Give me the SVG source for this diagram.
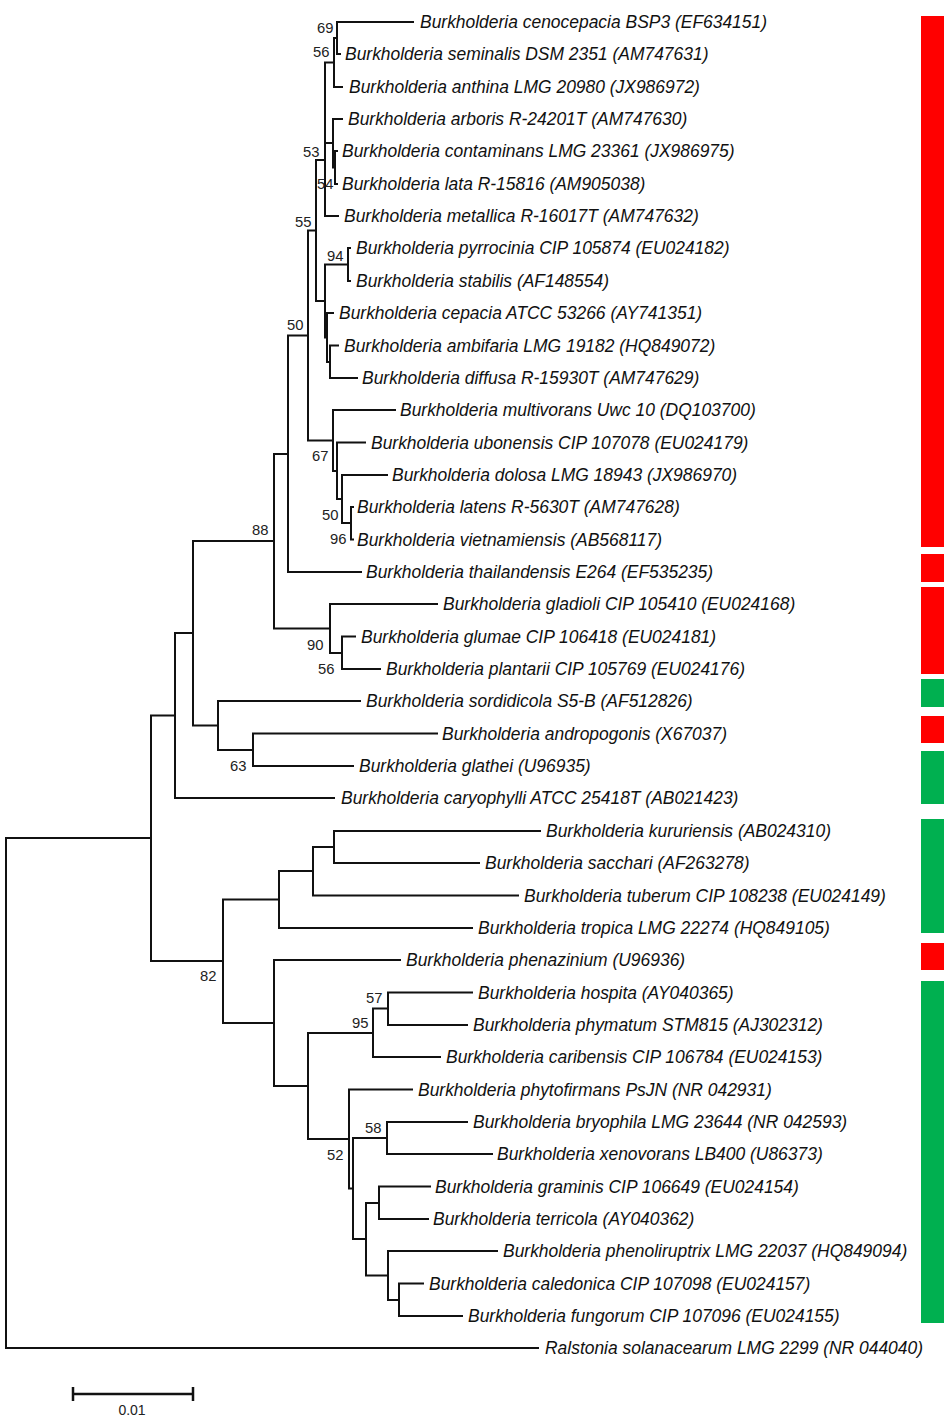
<svg xmlns="http://www.w3.org/2000/svg" width="944" height="1417" viewBox="0 0 944 1417">
<style>
.br{fill:none;stroke:#111;stroke-width:2;stroke-linecap:square}
.lf{font-family:"Liberation Sans",Arial,sans-serif;font-size:17.45px;font-style:italic;fill:#111}
.bs{font-family:"Liberation Sans",Arial,sans-serif;font-size:14.8px;fill:#222}
.red{fill:#ff0000}
.grn{fill:#00b050}
</style>
<rect width="944" height="1417" fill="#fff"/>
<g id="connectors">
<path class="br" d="
M337,22V54 M334,38H337 M334,38V87 M325,62.5H334
M337,22H413 M337,54H340 M334,87H342
M335,151V184 M333,167.5H335 M333,119V167.5 M325,143H333
M333,119H342 M335,151H337 M335,184H337 M325,216H338
M325,62.5V216 M316,160H325
M348,248V281 M325,264.5H348 M348,248H350 M348,281H350
M330,345.5V378 M327,362H330 M330,345.5H338 M330,378H357
M327,313V362 M325,337.5H327 M327,313H333
M325,264.5V337.5 M316,301H325
M316,160V301 M308,230.5H316
M351,507V539.5 M342,523H351 M351,507H353 M351,539.5H353
M342,475V523 M337,499H342 M342,475H387
M337,442.5V499 M333,471H337 M337,442.5H365
M333,410V471 M308,440.5H333 M333,410H395
M308,230.5V440.5 M288,335.5H308
M288,335.5V572 M274,454H288 M288,572H361
M342,636.5V669 M330,653H342 M342,636.5H355 M342,669H380
M330,604V653 M274,628.5H330 M330,604H437
M274,454V628.5 M193,541H274
M253,733.5V766 M218,750H253 M253,733.5H437 M253,766H353
M218,701V750 M193,725.5H218 M218,701H360
M193,541V725.5 M175,633H193
M175,633V798 M151,715.5H175 M175,798H334
M334,831V863 M313,847H334 M334,831H540 M334,863H479
M313,847V895.5 M279,871H313 M313,895.5H518
M279,871V928 M223,899.5H279 M279,928H472
M388,992.5V1025 M373,1008.5H388 M388,992.5H472 M388,1025H467
M373,1008.5V1057 M308,1033H373 M373,1057H440
M387,1122V1154 M353,1138H387 M387,1122H467 M387,1154H492
M379,1186.5V1219 M366,1203H379 M379,1186.5H430 M379,1219H428
M399,1283.5V1316 M388,1300H399 M399,1283.5H423 M399,1316H462
M388,1251V1300 M366,1275.5H388 M388,1251H497
M366,1203V1275.5 M353,1239H366
M353,1138V1239 M349,1188.5H353
M349,1089.5V1188.5 M308,1139H349 M349,1089.5H412
M308,1033V1139 M274,1086H308
M274,960V1086 M223,1023H274 M274,960H400
M223,899.5V1023 M151,961H223
M151,715.5V961 M6,838H151
M6,838V1348 M6,1348H538"/>
</g>
<g id="leaves">
<g id="n0"><text class="lf" x="420" y="28">Burkholderia cenocepacia BSP3 (EF634151)</text></g>
<g id="n1"><text class="lf" x="345" y="60">Burkholderia seminalis DSM 2351 (AM747631)</text></g>
<g id="n2"><text class="lf" x="349" y="93">Burkholderia anthina LMG 20980 (JX986972)</text></g>
<g id="n3"><text class="lf" x="348" y="125">Burkholderia arboris R-24201T (AM747630)</text></g>
<g id="n4"><text class="lf" x="342" y="157">Burkholderia contaminans LMG 23361 (JX986975)</text></g>
<g id="n5"><text class="lf" x="342" y="190">Burkholderia lata R-15816 (AM905038)</text></g>
<g id="n6"><text class="lf" x="344" y="222">Burkholderia metallica R-16017T (AM747632)</text></g>
<g id="n7"><text class="lf" x="356" y="254">Burkholderia pyrrocinia CIP 105874 (EU024182)</text></g>
<g id="n8"><text class="lf" x="356" y="287">Burkholderia stabilis (AF148554)</text></g>
<g id="n9"><text class="lf" x="339" y="319">Burkholderia cepacia ATCC 53266 (AY741351)</text></g>
<g id="n10"><text class="lf" x="344" y="351.5">Burkholderia ambifaria LMG 19182 (HQ849072)</text></g>
<g id="n11"><text class="lf" x="362" y="384">Burkholderia diffusa R-15930T (AM747629)</text></g>
<g id="n12"><text class="lf" x="400" y="416">Burkholderia multivorans Uwc 10 (DQ103700)</text></g>
<g id="n13"><text class="lf" x="371" y="448.5">Burkholderia ubonensis CIP 107078 (EU024179)</text></g>
<g id="n14"><text class="lf" x="392" y="481">Burkholderia dolosa LMG 18943 (JX986970)</text></g>
<g id="n15"><text class="lf" x="357" y="513">Burkholderia latens R-5630T (AM747628)</text></g>
<g id="n16"><text class="lf" x="357" y="545.5">Burkholderia vietnamiensis (AB568117)</text></g>
<g id="n17"><text class="lf" x="366" y="578">Burkholderia thailandensis E264 (EF535235)</text></g>
<g id="n18"><text class="lf" x="443" y="610">Burkholderia gladioli CIP 105410 (EU024168)</text></g>
<g id="n19"><text class="lf" x="361" y="642.5">Burkholderia glumae CIP 106418 (EU024181)</text></g>
<g id="n20"><text class="lf" x="386" y="675">Burkholderia plantarii CIP 105769 (EU024176)</text></g>
<g id="n21"><text class="lf" x="366" y="707">Burkholderia sordidicola S5-B (AF512826)</text></g>
<g id="n22"><text class="lf" x="442" y="739.5">Burkholderia andropogonis (X67037)</text></g>
<g id="n23"><text class="lf" x="359" y="772">Burkholderia glathei (U96935)</text></g>
<g id="n24"><text class="lf" x="341" y="804">Burkholderia caryophylli ATCC 25418T (AB021423)</text></g>
<g id="n25"><text class="lf" x="546" y="837">Burkholderia kururiensis (AB024310)</text></g>
<g id="n26"><text class="lf" x="485" y="869">Burkholderia sacchari (AF263278)</text></g>
<g id="n27"><text class="lf" x="524" y="901.5">Burkholderia tuberum CIP 108238 (EU024149)</text></g>
<g id="n28"><text class="lf" x="478" y="934">Burkholderia tropica LMG 22274 (HQ849105)</text></g>
<g id="n29"><text class="lf" x="406" y="966">Burkholderia phenazinium (U96936)</text></g>
<g id="n30"><text class="lf" x="478" y="998.5">Burkholderia hospita (AY040365)</text></g>
<g id="n31"><text class="lf" x="473" y="1031">Burkholderia phymatum STM815 (AJ302312)</text></g>
<g id="n32"><text class="lf" x="446" y="1063">Burkholderia caribensis CIP 106784 (EU024153)</text></g>
<g id="n33"><text class="lf" x="418" y="1095.5">Burkholderia phytofirmans PsJN (NR 042931)</text></g>
<g id="n34"><text class="lf" x="473" y="1128">Burkholderia bryophila LMG 23644 (NR 042593)</text></g>
<g id="n35"><text class="lf" x="497" y="1160">Burkholderia xenovorans LB400 (U86373)</text></g>
<g id="n36"><text class="lf" x="435" y="1192.5">Burkholderia graminis CIP 106649 (EU024154)</text></g>
<g id="n37"><text class="lf" x="433" y="1225">Burkholderia terricola (AY040362)</text></g>
<g id="n38"><text class="lf" x="503" y="1257">Burkholderia phenoliruptrix LMG 22037 (HQ849094)</text></g>
<g id="n39"><text class="lf" x="429" y="1289.5">Burkholderia caledonica CIP 107098 (EU024157)</text></g>
<g id="n40"><text class="lf" x="468" y="1322">Burkholderia fungorum CIP 107096 (EU024155)</text></g>
<g id="n41"><text class="lf" x="545" y="1354">Ralstonia solanacearum LMG 2299 (NR 044040)</text></g>
</g>
<g id="bootstrap">
<text class="bs" x="317" y="33">69</text>
<text class="bs" x="313" y="57">56</text>
<text class="bs" x="303" y="157">53</text>
<text class="bs" x="317" y="189">54</text>
<text class="bs" x="295" y="227">55</text>
<text class="bs" x="327" y="261">94</text>
<text class="bs" x="287" y="330">50</text>
<text class="bs" x="252" y="535">88</text>
<text class="bs" x="312" y="461">67</text>
<text class="bs" x="322" y="520">50</text>
<text class="bs" x="330" y="544">96</text>
<text class="bs" x="307" y="650">90</text>
<text class="bs" x="318" y="674">56</text>
<text class="bs" x="230" y="771">63</text>
<text class="bs" x="200" y="981">82</text>
<text class="bs" x="366" y="1003">57</text>
<text class="bs" x="352" y="1028">95</text>
<text class="bs" x="365" y="1133">58</text>
<text class="bs" x="327" y="1160">52</text>
</g>
<g id="scalebar">
<path d="M73,1394H193 M73,1387V1401 M193,1387V1401" fill="none" stroke="#111" stroke-width="2.5"/>
<text class="bs" x="132" y="1415" text-anchor="middle" style="font-size:14px">0.01</text>
</g>
<g id="bars">
<rect class="red" x="921" y="16" width="23" height="531"/>
<rect class="red" x="921" y="554" width="23" height="28"/>
<rect class="red" x="921" y="587" width="23" height="87"/>
<rect class="grn" x="921" y="679" width="23" height="28"/>
<rect class="red" x="921" y="716" width="23" height="27"/>
<rect class="grn" x="921" y="751" width="23" height="53"/>
<rect class="grn" x="921" y="819" width="23" height="114"/>
<rect class="red" x="921" y="943" width="23" height="27"/>
<rect class="grn" x="921" y="981" width="23" height="342"/>
</g>
</svg>
